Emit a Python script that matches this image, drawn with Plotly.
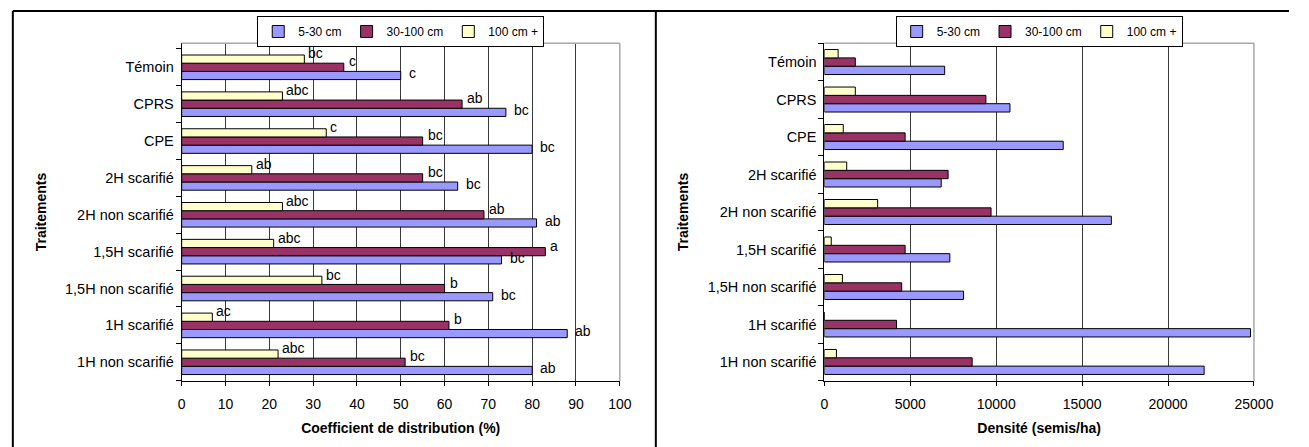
import plotly.graph_objects as go

# ---------------- data ----------------
categories = ["Témoin", "CPRS", "CPE", "2H scarifié", "2H non scarifié",
              "1,5H scarifié", "1,5H non scarifié", "1H scarifié", "1H non scarifié"]
series_names = ["5-30 cm", "30-100 cm", "100 cm +"]

coef_5_30 = [50, 74, 80, 63, 81, 73, 71, 88, 80]
coef_30_100 = [37, 64, 55, 55, 69, 83, 60, 61, 51]
coef_100_plus = [28, 23, 33, 16, 23, 21, 32, 7, 22]

letters_5_30 = ["c", "bc", "bc", "bc", "ab", "bc", "bc", "ab", "ab"]
letters_30_100 = ["c", "ab", "bc", "bc", "ab", "a", "b", "b", "bc"]
letters_100_plus = ["bc", "abc", "c", "ab", "abc", "abc", "bc", "ac", "abc"]

dens_5_30 = [7000, 10800, 13900, 6800, 16700, 7300, 8100, 24800, 22100]
dens_30_100 = [1800, 9400, 4700, 7200, 9700, 4700, 4500, 4200, 8600]
dens_100_plus = [800, 1800, 1100, 1300, 3100, 400, 1050, 0, 700]

coef_ticks = list(range(0, 101, 10))
dens_ticks = list(range(0, 25001, 5000))

x_title_left = "Coefficient de distribution (%)"
x_title_right = "Densité (semis/ha)"
y_title = "Traitements"

# ---------------- style ----------------
colors = ["#9999FF", "#993366", "#FFFFCC"]
W, H = 1309, 447
FONT = "Liberation Sans, Arial, sans-serif"

def px_x(p):
    return p / W

def px_y(p):
    return 1 - p / H

left_dom = [px_x(181), px_x(627.3)]
right_dom = [px_x(835.7), px_x(1273.3)]
y_dom = [px_y(380.7), px_y(43.3)]

fig = go.Figure()

coef_series = [coef_5_30, coef_30_100, coef_100_plus]
dens_series = [dens_5_30, dens_30_100, dens_100_plus]
letter_series = [letters_5_30, letters_30_100, letters_100_plus]

for name, vals, col in zip(series_names, coef_series, colors):
    fig.add_trace(go.Bar(
        x=vals, y=categories, name=name, orientation="h",
        marker=dict(color=col, line=dict(color="black", width=1)),
        xaxis="x", yaxis="y", legend="legend", hoverinfo="x+y+name",
    ))

for name, vals, col in zip(series_names, dens_series, colors):
    fig.add_trace(go.Bar(
        x=vals, y=categories, name=name, orientation="h",
        marker=dict(color=col, line=dict(color="black", width=1)),
        xaxis="x2", yaxis="y2", legend="legend2", hoverinfo="x+y+name",
    ))

# letters next to bars in the left panel
shifts = [(6, -6), (3, 6), (2, 14)]  # (xshift, yshift) per series
annotations = []
for vals, letters, (xs, ys) in zip(coef_series, letter_series, shifts):
    for cat, v, lab in zip(categories, vals, letters):
        annotations.append(dict(
            x=v, y=cat, xref="x", yref="y", text=lab, showarrow=False,
            xanchor="left", yanchor="middle", xshift=xs, yshift=ys,
            font=dict(size=14, color="black", family=FONT),
        ))

# frame lines
shapes = []
for xa, ya in [("x", "y"), ("x2", "y2")]:
    shapes.append(dict(type="line", xref=f"{xa} domain", yref=f"{ya} domain",
                       x0=0, x1=1, y0=1, y1=1, line=dict(color="#A8A8A8", width=1.5)))
    shapes.append(dict(type="line", xref=f"{xa} domain", yref=f"{ya} domain",
                       x0=1, x1=1, y0=0, y1=1, line=dict(color="#A8A8A8", width=1.5)))
# outer panel borders
shapes.append(dict(type="line", xref="paper", yref="paper", x0=px_x(9), x1=1,
                   y0=px_y(11), y1=px_y(11), line=dict(color="black", width=2)))
shapes.append(dict(type="line", xref="paper", yref="paper", x0=px_x(9), x1=px_x(9),
                   y0=0, y1=px_y(11), line=dict(color="black", width=2)))
shapes.append(dict(type="line", xref="paper", yref="paper", x0=px_x(664), x1=px_x(664),
                   y0=0, y1=px_y(11), line=dict(color="black", width=2)))

common_x = dict(
    ticks="outside", ticklen=4, tickcolor="black", showline=True, linecolor="black",
    linewidth=1, showgrid=True, gridcolor="#3a3a3a", gridwidth=1, zeroline=False,
    tickfont=dict(size=14, color="black"), ticklabelstandoff=6, tickformat="d",
)
common_y = dict(
    categoryorder="array", categoryarray=list(reversed(categories)),
    tickson="boundaries", ticks="outside", ticklen=5, tickcolor="black",
    showline=True, linecolor="black", linewidth=1, showgrid=False, zeroline=False,
    tickfont=dict(size=14.5, color="black"), ticklabelstandoff=4,
)

legend_common = dict(
    orientation="h", xanchor="center", yanchor="top", y=px_y(16),
    bordercolor="black", borderwidth=1, bgcolor="white",
    font=dict(size=12, color="black"), traceorder="normal",
)

fig.update_layout(
    width=W, height=H, margin=dict(l=0, r=0, t=0, b=0),
    paper_bgcolor="white", plot_bgcolor="white",
    font=dict(family=FONT, color="black", size=14),
    barmode="group", bargap=0.3333, bargroupgap=0,
    xaxis=dict(domain=left_dom, range=[0, 100], tickvals=coef_ticks, anchor="y",
               title=dict(text=f"<b>{x_title_left}</b>", standoff=12, font=dict(size=14)),
               **common_x),
    yaxis=dict(domain=y_dom, anchor="x",
               title=dict(text=f"<b>{y_title}</b>", standoff=15, font=dict(size=14)),
               **common_y),
    xaxis2=dict(domain=right_dom, range=[0, 25000], tickvals=dens_ticks, anchor="y2",
                title=dict(text=f"<b>{x_title_right}</b>", standoff=12, font=dict(size=14)),
                **common_x),
    yaxis2=dict(domain=y_dom, anchor="x2",
                title=dict(text=f"<b>{y_title}</b>", standoff=15, font=dict(size=14)),
                **common_y),
    legend=dict(x=(left_dom[0] + left_dom[1]) / 2, **legend_common),
    legend2=dict(x=(right_dom[0] + right_dom[1]) / 2, **legend_common),
    annotations=annotations,
    shapes=shapes,
    showlegend=True,
)

fig.write_html("out.html", config={"displayModeBar": False},
               post_script="document.body.style.margin='0';")
